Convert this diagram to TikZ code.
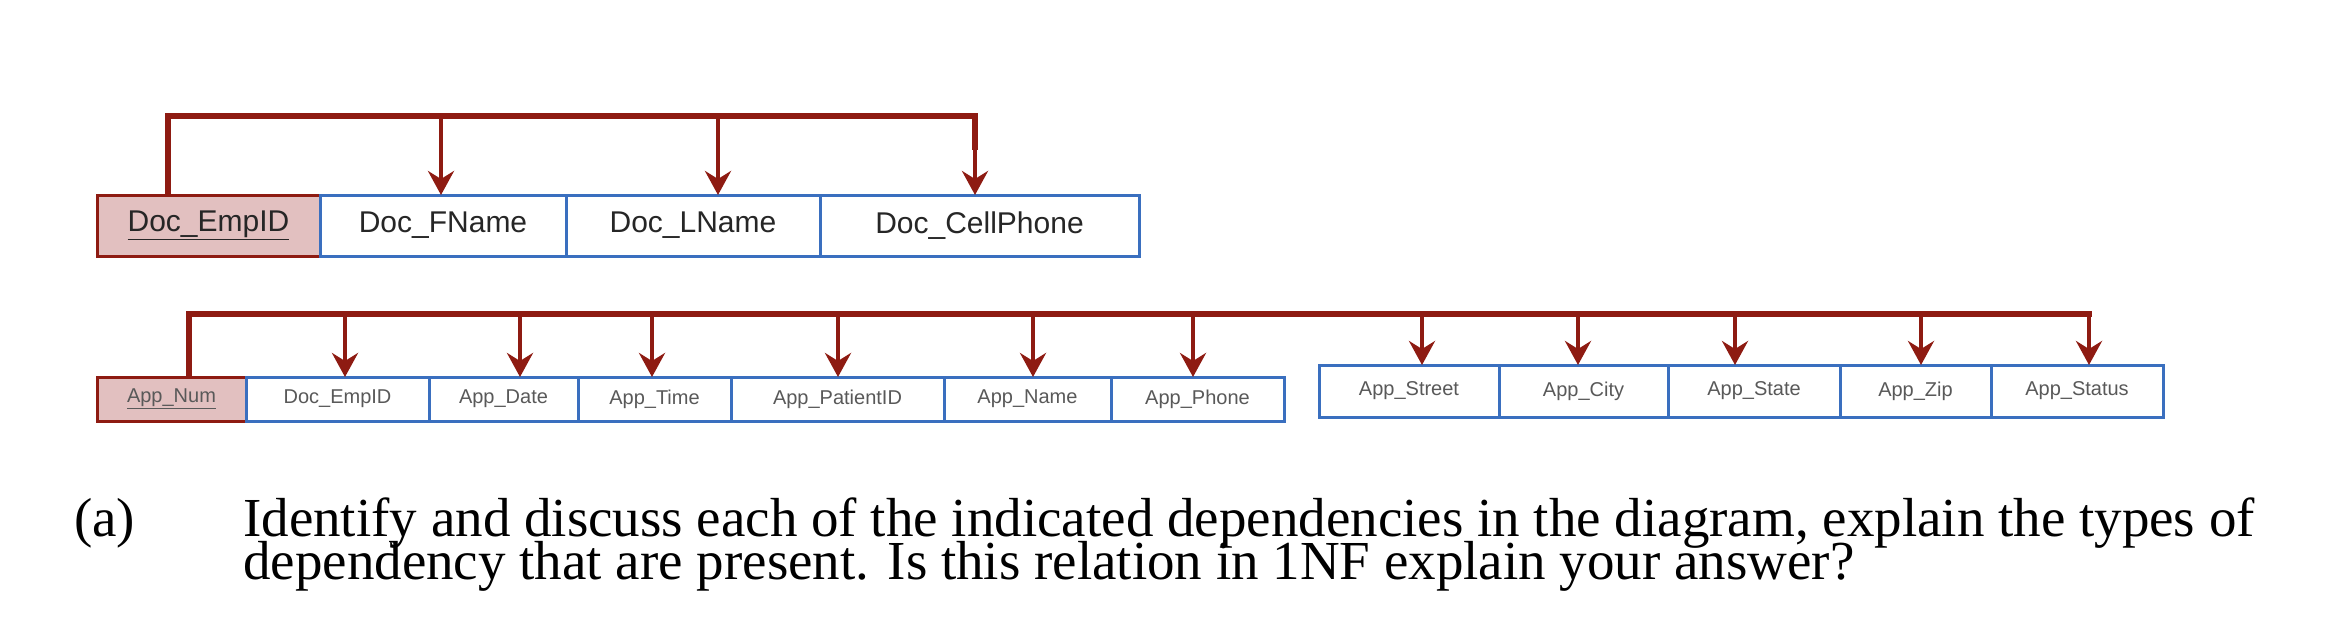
\documentclass[tikz,border=0pt]{standalone}
\usepackage{fontspec}
\setmainfont{Liberation Serif}
\newfontfamily\boxfont{Liberation Sans}
\usetikzlibrary{arrows.meta}
\definecolor{dred}{HTML}{8E1B12}
\definecolor{kpink}{HTML}{E2C0C0}
\definecolor{bblue}{HTML}{3A6FBF}
\begin{document}
\begin{tikzpicture}[x=1pt,y=-1pt,
  cell/.style={draw=bblue,line width=3pt,fill=white,inner sep=0pt,text=black!85},
  keycell/.style={draw=dred,line width=3pt,fill=kpink,inner sep=0pt,text=black!85},
  big/.style={minimum height=61,font=\boxfont\fontsize{30}{32}\selectfont},
  small/.style={minimum height=44,font=\boxfont\fontsize{20}{22}\selectfont,text=black!65},
  smallb/.style={minimum height=52,font=\boxfont\fontsize{20}{22}\selectfont,text=black!65},
  bar/.style={draw=dred,line width=6pt},
  dep/.style={draw=dred,line width=4pt,-{Stealth[length=24pt,width=26pt,inset=8pt]}}]
\useasboundingbox (0,0) rectangle (2334,616);
% row 1
\node[keycell,big,minimum width=223] (k1) at (208.5,225.5) {\underline{Doc\_EmpID}};
\node[cell,big,minimum width=246] (f1) at (443,225.5) {Doc\_FName};
\node[cell,big,minimum width=254] (l1) at (693,225.5) {Doc\_LName};
\node[cell,big,minimum width=319] (c1) at (979.5,225.5) {Doc\_CellPhone};
\coordinate (t0) at (168,116);
\coordinate (t1) at (975,116);
\draw[bar] (168,195) -- (t0) -- (t1) -- (975,150);
\draw[dep] (441,116) -- (441,195);
\draw[dep] (718,116) -- (718,195);
\draw[dep] (975,116) -- (975,195);
% row 2
\node[keycell,small,minimum width=149] (k2) at (171.5,399) {\underline{App\_Num}};
\node[cell,small,minimum width=183] (a1) at (337.5,399) {Doc\_EmpID};
\node[cell,small,minimum width=149] (a2) at (503.5,399) {App\_Date};
\node[cell,small,minimum width=153] (a3) at (654.5,399) {App\_Time};
\node[cell,small,minimum width=213] (a4) at (837.5,399) {App\_PatientID};
\node[cell,small,minimum width=167] (a5) at (1027.5,399) {App\_Name};
\node[cell,small,minimum width=173] (a6) at (1197.5,399) {App\_Phone};
\node[cell,smallb,minimum width=180] (b1) at (1409,391) {App\_Street};
\node[cell,smallb,minimum width=169] (b2) at (1583.5,391) {App\_City};
\node[cell,smallb,minimum width=172] (b3) at (1754,391) {App\_State};
\node[cell,smallb,minimum width=151] (b4) at (1915.5,391) {App\_Zip};
\node[cell,smallb,minimum width=172] (b5) at (2077,391) {App\_Status};
\draw[bar] (189,377) -- (189,314) -- (2092,314);
\foreach \x/\n in {345/a1,520/a2,652/a3,838/a4,1033/a5,1193/a6}
  \draw[dep] (\x,314) -- (\x,377);
\foreach \x/\n in {1422/b1,1578/b2,1735/b3,1921/b4,2089/b5}
  \draw[dep] (\x,314) -- (\x,365);
% question text
\node[anchor=base west,inner sep=0pt,font=\fontsize{55}{60}\selectfont] (qa) at (74,536) {(a)};
\node[anchor=base west,inner sep=0pt,font=\fontsize{55}{60}\selectfont] (q1) at (243,536) {Identify and discuss each of the indicated dependencies in the diagram, explain the types of};
\node[anchor=base west,inner sep=0pt,font=\fontsize{55}{60}\selectfont] (q2) at (243,579) {dependency that are present. Is this relation in 1NF explain your answer?};
\end{tikzpicture}
\end{document}
